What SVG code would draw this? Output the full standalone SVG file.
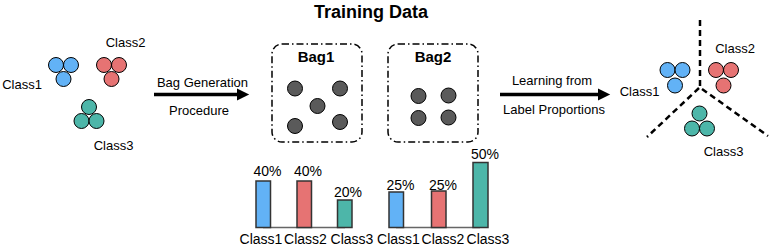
<svg xmlns="http://www.w3.org/2000/svg" width="773" height="249" viewBox="0 0 773 249">
<defs>
<style>
text{font-family:"Liberation Sans",Arial,sans-serif;fill:#000}
.t13{font-size:13px}
.t14{font-size:14px}
.b{font-weight:bold}
.blue{fill:#62b2f6;stroke:#000;stroke-width:1}
.red{fill:#e67373;stroke:#000;stroke-width:1}
.green{fill:#4db6a9;stroke:#000;stroke-width:1}
.dot{fill:#5a5a5a;stroke:#000;stroke-width:1}
.bag{fill:none;stroke:#000;stroke-width:1.5;stroke-dasharray:7 3 1.5 3}
.bar{stroke:#333;stroke-width:1.5}
.base{stroke:#666;stroke-width:1.5}
.arrow{stroke:#000;stroke-width:3.5;fill:none}
.div{stroke:#000;stroke-width:2.5;stroke-dasharray:6 4;fill:none}
</style>
<marker id="ah" markerWidth="4" markerHeight="4" refX="0.3" refY="2" orient="auto" markerUnits="strokeWidth" viewBox="0 0 4 4">
<path d="M0,0.3 L3.5,2 L0,3.7 Z" fill="#000"/>
</marker>
</defs>

<text id="title" class="b" x="371" y="18" font-size="18" text-anchor="middle">Training Data</text>

<g id="class1-left">
<circle class="blue" cx="56" cy="65" r="7.5"/>
<circle class="blue" cx="71" cy="65" r="7.5"/>
<circle class="blue" cx="63.5" cy="79" r="7.5"/>
<text class="t13" x="22" y="88.5" text-anchor="middle">Class1</text>
</g>
<g id="class2-left">
<circle class="red" cx="104" cy="65" r="7.5"/>
<circle class="red" cx="119" cy="65" r="7.5"/>
<circle class="red" cx="111.5" cy="79" r="7.5"/>
<text class="t13" x="125.5" y="46.5" text-anchor="middle">Class2</text>
</g>
<g id="class3-left">
<circle class="green" cx="89" cy="107" r="7.5"/>
<circle class="green" cx="81.5" cy="121" r="7.5"/>
<circle class="green" cx="96.5" cy="121" r="7.5"/>
<text class="t13" x="113.5" y="150" text-anchor="middle">Class3</text>
</g>

<g id="bag1">
<rect class="bag" x="272" y="44" width="90" height="98" rx="10"/>
<text class="b" x="316" y="62" font-size="15" text-anchor="middle">Bag1</text>
<circle class="dot" cx="295" cy="88.5" r="7.5"/>
<circle class="dot" cx="340" cy="88.5" r="7.5"/>
<circle class="dot" cx="317.5" cy="106" r="7.5"/>
<circle class="dot" cx="295" cy="126" r="7.5"/>
<circle class="dot" cx="340" cy="122" r="7.5"/>
</g>
<g id="bag2">
<rect class="bag" x="388" y="44" width="90" height="98" rx="10"/>
<text class="b" x="433" y="62" font-size="15" text-anchor="middle">Bag2</text>
<circle class="dot" cx="418.5" cy="96" r="7.5"/>
<circle class="dot" cx="448.5" cy="95.5" r="7.5"/>
<circle class="dot" cx="418.5" cy="118" r="7.5"/>
<circle class="dot" cx="448.5" cy="117.5" r="7.5"/>
</g>

<g id="class1-right">
<circle class="blue" cx="667.5" cy="70" r="7.5"/>
<circle class="blue" cx="682.5" cy="70" r="7.5"/>
<circle class="blue" cx="675" cy="85.5" r="7.5"/>
<text class="t13" x="639.5" y="95.5" text-anchor="middle">Class1</text>
</g>
<g id="class2-right">
<circle class="red" cx="716" cy="70" r="7.5"/>
<circle class="red" cx="731" cy="70" r="7.5"/>
<circle class="red" cx="723.5" cy="85.5" r="7.5"/>
<text class="t13" x="735" y="52.5" text-anchor="middle">Class2</text>
</g>
<g id="class3-right">
<circle class="green" cx="699.5" cy="113.5" r="7.5"/>
<circle class="green" cx="692" cy="128.5" r="7.5"/>
<circle class="green" cx="707" cy="128.5" r="7.5"/>
<text class="t13" x="723.5" y="156" text-anchor="middle">Class3</text>
</g>

<g id="chart1">
<line class="base" x1="263" y1="227.5" x2="345" y2="227.5"/>
<rect class="bar" x="256" y="181" width="14.5" height="46.5" fill="#62b2f6"/>
<rect class="bar" x="297" y="181" width="14.5" height="46.5" fill="#e67373"/>
<rect class="bar" x="337.5" y="200" width="14.5" height="27.5" fill="#4db6a9"/>
<text class="t14" x="267.5" y="176" text-anchor="middle">40%</text>
<text class="t14" x="308" y="176" text-anchor="middle">40%</text>
<text class="t14" x="348" y="196.5" text-anchor="middle">20%</text>
<text class="t14" x="261" y="243.5" text-anchor="middle">Class1</text>
<text class="t14" x="305.5" y="243.5" text-anchor="middle">Class2</text>
<text class="t14" x="352" y="243.5" text-anchor="middle">Class3</text>
</g>
<g id="chart2">
<line class="base" x1="396" y1="227.5" x2="480" y2="227.5"/>
<rect class="bar" x="389" y="192" width="14.5" height="35.5" fill="#62b2f6"/>
<rect class="bar" x="431.5" y="191" width="14.5" height="36.5" fill="#e67373"/>
<rect class="bar" x="473" y="162.5" width="15" height="65" fill="#4db6a9"/>
<text class="t14" x="400.5" y="189.5" text-anchor="middle">25%</text>
<text class="t14" x="443" y="189.5" text-anchor="middle">25%</text>
<text class="t14" x="485" y="159" text-anchor="middle">50%</text>
<text class="t14" x="398.5" y="243.5" text-anchor="middle">Class1</text>
<text class="t14" x="443" y="243.5" text-anchor="middle">Class2</text>
<text class="t14" x="488" y="243.5" text-anchor="middle">Class3</text>
</g>

<g id="connectors">
<line class="arrow" x1="154" y1="94.5" x2="238" y2="94.5" marker-end="url(#ah)"/>
<line class="arrow" x1="500" y1="94.5" x2="599" y2="94.5" marker-end="url(#ah)"/>
<text class="t13" x="202.5" y="86.5" text-anchor="middle">Bag Generation</text>
<text class="t13" x="199" y="114.5" text-anchor="middle">Procedure</text>
<text class="t13" x="552" y="85" text-anchor="middle">Learning from</text>
<text class="t13" x="554" y="114" text-anchor="middle">Label Proportions</text>
</g>

<g id="dividers">
<line class="div" x1="700" y1="20" x2="700" y2="88"/>
<line class="div" x1="699" y1="88" x2="647" y2="137"/>
<line class="div" x1="702" y1="89" x2="768" y2="136"/>
</g>
</svg>
